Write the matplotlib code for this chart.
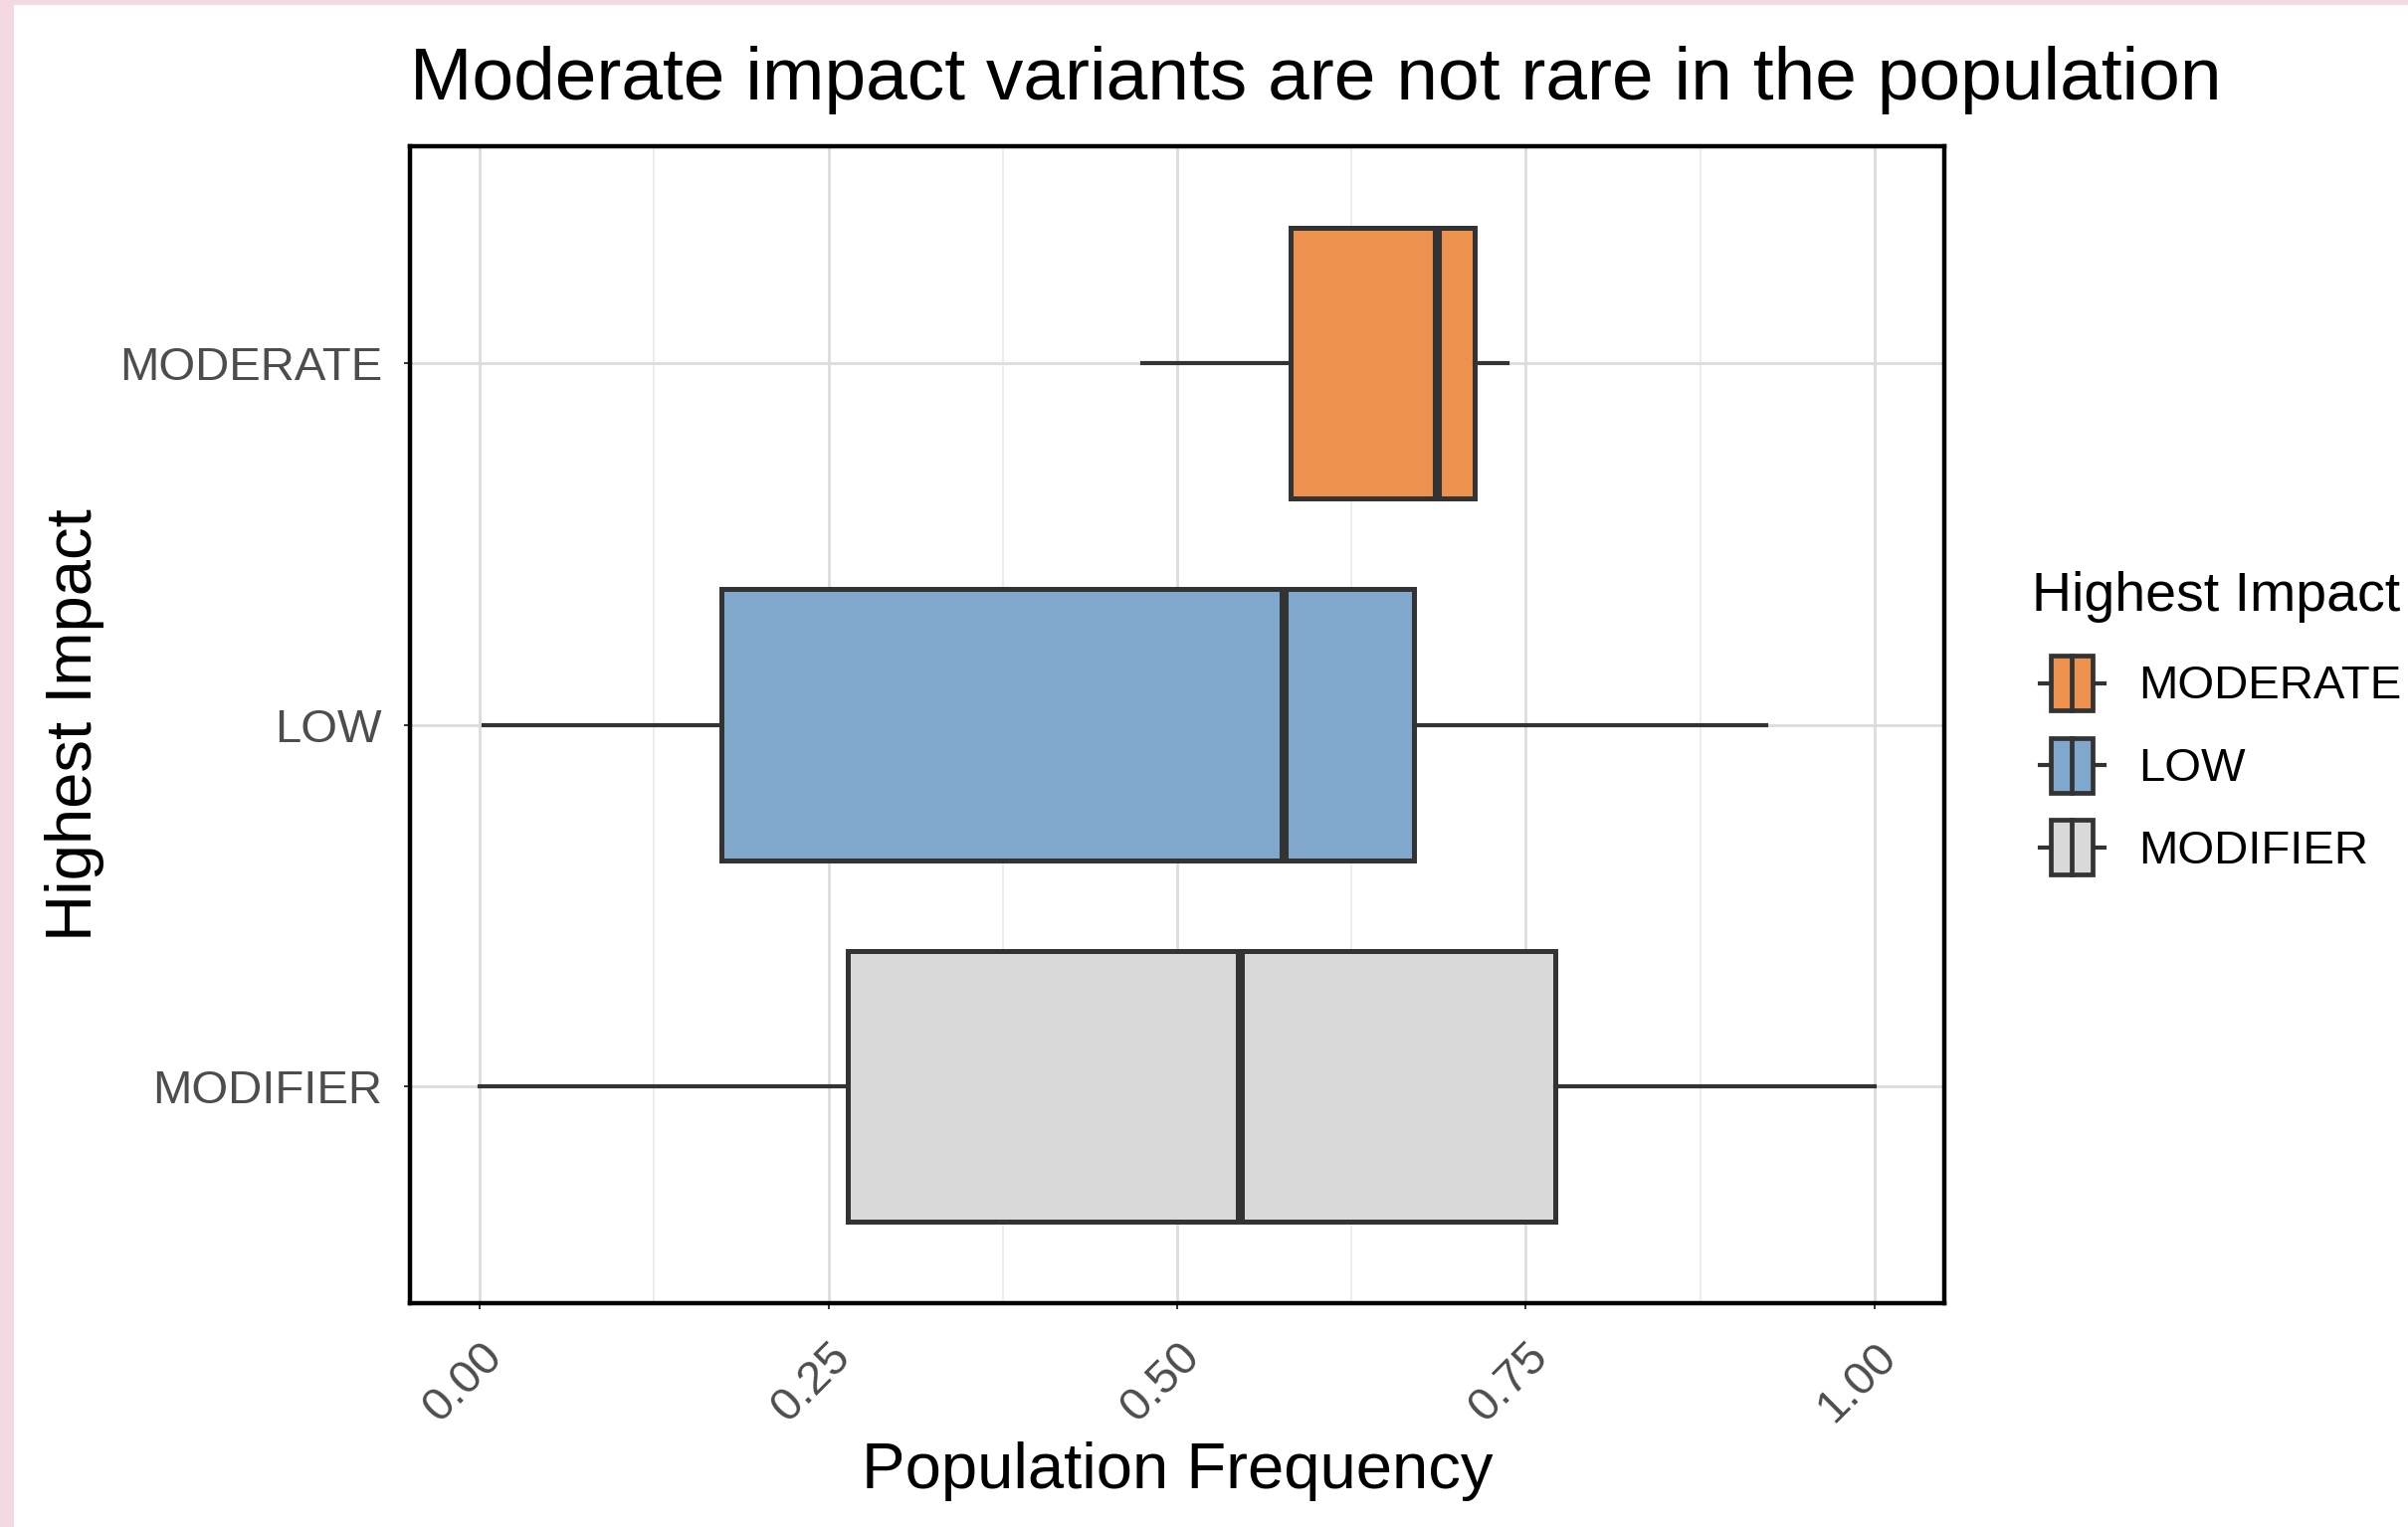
import matplotlib
matplotlib.use("Agg")
import matplotlib.pyplot as plt
from matplotlib.patches import Patch, Rectangle
from matplotlib.lines import Line2D
from matplotlib.legend_handler import HandlerBase
from matplotlib.ticker import MultipleLocator

plt.rcParams['font.family'] = ['Liberation Sans', 'DejaVu Sans']

# box statistics (bottom to top)
categories = ['MODIFIER', 'LOW', 'MODERATE']
whisker_low = [0.000, 0.003, 0.475]
q1 = [0.264, 0.173, 0.581]
median = [0.545, 0.576, 0.686]
q3 = [0.771, 0.670, 0.713]
whisker_high = [1.000, 0.922, 0.737]
fills = ['#d9d9d9', '#80a7cc', '#ec914e']

legend_order = ['MODERATE', 'LOW', 'MODIFIER']
xticks = [0.0, 0.25, 0.5, 0.75, 1.0]
xtick_labels = ['0.00', '0.25', '0.50', '0.75', '1.00']

EDGE = '#333333'
KEY_INDENT = 5.5  # points, keys sit a bit right of the legend title


class BoxHandler(HandlerBase):
    # small horizontal boxplot as legend key, like ggplot's draw_key_boxplot
    def create_artists(self, legend, orig_handle, xdescent, ydescent,
                       width, height, fontsize, trans):
        x0, y0 = -xdescent + KEY_INDENT, -ydescent
        width = width - KEY_INDENT
        yc = y0 + height / 2
        whisk = Line2D([x0, x0 + width], [yc, yc], color=EDGE, lw=3.0,
                       transform=trans)
        bw = width * 0.64
        bx = x0 + (width - bw) / 2
        rect = Rectangle((bx, y0), bw, height,
                         facecolor=orig_handle.get_facecolor(),
                         edgecolor=EDGE, lw=3.4, transform=trans)
        med = Line2D([x0 + width / 2] * 2, [y0, y0 + height], color=EDGE,
                     lw=3.4, transform=trans)
        return [whisk, rect, med]


def make_stats():
    stats = []
    for i, name in enumerate(categories):
        stats.append({'label': name, 'whislo': whisker_low[i], 'q1': q1[i],
                      'med': median[i], 'q3': q3[i], 'whishi': whisker_high[i],
                      'fliers': []})
    return stats


def main():
    W, H = 2420, 1535
    fig = plt.figure(figsize=(W / 100, H / 100), dpi=100)
    fig.patch.set_facecolor('#f4d8e2')
    fig.add_artist(Rectangle((14 / W, 0), 1, 1 - 5 / H, transform=fig.transFigure,
                             facecolor='white', edgecolor='none', zorder=-10))

    ax = fig.add_axes([412 / W, 1 - 1310 / H, (1954 - 412) / W, (1310 - 147) / H])
    ax.set_facecolor('white')

    bp = ax.bxp(make_stats(), positions=[1, 2, 3], widths=0.75,
                orientation='horizontal', patch_artist=True, showcaps=False,
                showfliers=False,
                boxprops=dict(edgecolor=EDGE, linewidth=3.6),
                whiskerprops=dict(color=EDGE, linewidth=3.0),
                medianprops=dict(color=EDGE, linewidth=6.5, solid_capstyle='butt'))
    for patch, col in zip(bp['boxes'], fills):
        patch.set_facecolor(col)
        patch.set_zorder(3)
    for ln in bp['whiskers'] + bp['medians']:
        ln.set_zorder(4)

    ax.set_xlim(-0.05, 1.05)
    ax.set_ylim(0.4, 3.6)
    ax.set_yticks([1, 2, 3])
    ax.set_yticklabels(categories)
    ax.set_xticks(xticks)
    ax.set_xticklabels(xtick_labels, rotation=45, ha='right', va='top',
                       rotation_mode='anchor')
    ax.xaxis.set_minor_locator(MultipleLocator(0.125))

    ax.grid(which='major', color='#dcdcdc', linewidth=2.0, zorder=0)
    ax.grid(which='minor', axis='x', color='#ededed', linewidth=1.4, zorder=0)
    ax.set_axisbelow(True)
    ax.tick_params(which='major', length=4, width=1.4, color=EDGE,
                   labelsize=34, labelcolor='#4d4d4d')
    ax.tick_params(axis='y', pad=16)
    ax.tick_params(axis='x', pad=19)
    ax.tick_params(which='minor', length=0)
    for sp in ax.spines.values():
        sp.set_linewidth(3.2)
        sp.set_color('black')

    ax.set_xlabel('Population Frequency', fontsize=47, labelpad=8)
    ax.set_ylabel('Highest Impact', fontsize=47, labelpad=11)
    ax.set_title('Moderate impact variants are not rare in the population',
                 fontsize=54, loc='left', pad=34)

    handles = [Patch(facecolor=fills[categories.index(n)]) for n in legend_order]
    ax.legend(handles, legend_order, handler_map={Patch: BoxHandler()},
              loc='upper left', bbox_to_anchor=(2023 / W, 1 - 555 / H),
              bbox_transform=fig.transFigure, frameon=False,
              title='Highest Impact', title_fontsize=40, fontsize=34,
              alignment='left', handlelength=1.38 + KEY_INDENT / 34,
              handleheight=1.42, handletextpad=0.72, labelspacing=0.58,
              borderaxespad=0)
    leg = ax.get_legend()
    leg._legend_box.sep = 24

    fig.savefig('out.png', dpi=100, facecolor=fig.get_facecolor())


if __name__ == "__main__":
    main()
